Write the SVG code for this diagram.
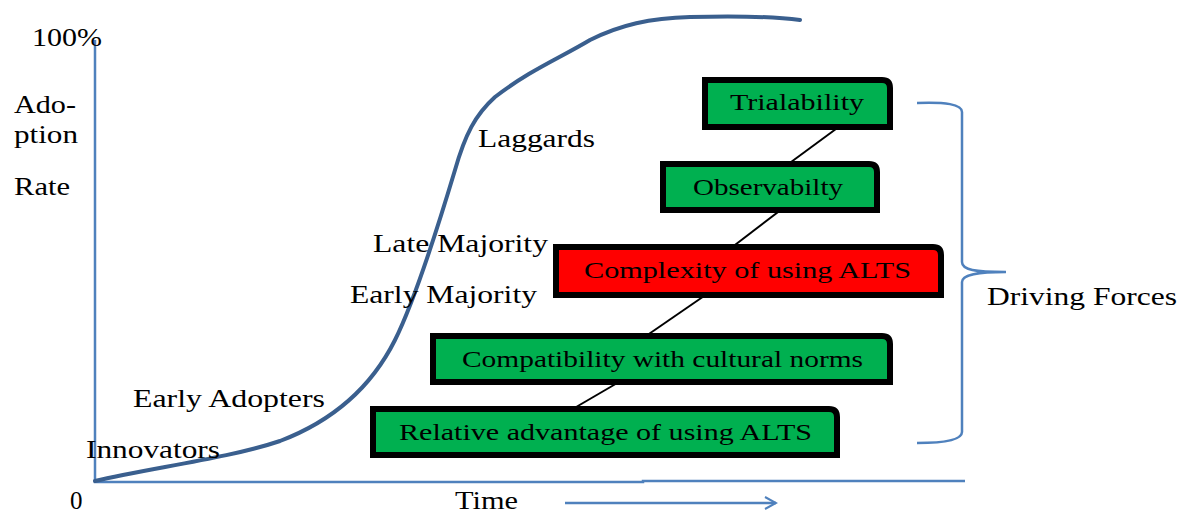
<svg xmlns="http://www.w3.org/2000/svg" width="1184" height="513" viewBox="0 0 1184 513">
<style>
text{font-family:"Liberation Serif","Times New Roman",serif;font-size:24px;fill:#000}
.lbl{font-size:25px}
.box{stroke:#000;stroke-width:6;stroke-linejoin:miter}
.g{fill:#00B050}
.r{fill:#FF0000}
.axis{stroke:#4F81BD;stroke-width:2.5;fill:none}
.conn{stroke:#000;stroke-width:2;fill:none}
</style>
<defs>
<marker id="chev" markerWidth="14" markerHeight="14" refX="12" refY="7" orient="auto" markerUnits="userSpaceOnUse">
<path d="M1,1 L12,7 L1,13" fill="none" stroke="#4F81BD" stroke-width="2"/>
</marker>
</defs>
<rect width="1184" height="513" fill="#fff"/>
<g id="axes">
<path class="axis" d="M95,40 V482 H643 V481 H965"/>
<path class="axis" d="M565,503 H776" marker-end="url(#chev)"/>
<text x="70" y="509" class="lbl">0</text>
<text x="32" y="46" class="lbl" textLength="70" lengthAdjust="spacingAndGlyphs">100%</text>
<text x="14" y="113" class="lbl" textLength="62" lengthAdjust="spacingAndGlyphs">Ado-</text>
<text x="14" y="143" class="lbl" textLength="64" lengthAdjust="spacingAndGlyphs">ption</text>
<text x="14" y="195" class="lbl" textLength="56" lengthAdjust="spacingAndGlyphs">Rate</text>
<text x="455" y="509" class="lbl" textLength="63" lengthAdjust="spacingAndGlyphs">Time</text>
</g>
<g id="curve">
<path d="M95,481 C150,468 230,458 280,441 C330,422 370,390 395,340 C415,300 440,220 455,170 C465,135 475,115 495,97 C530,70 560,58 590,40 C620,25 650,18 690,17 C730,16 770,16 800,20" fill="none" stroke="#3A5F8E" stroke-width="4" stroke-linecap="round"/>
<text x="86" y="458" class="lbl" textLength="134" lengthAdjust="spacingAndGlyphs">Innovators</text>
<text x="133" y="407" class="lbl" textLength="192" lengthAdjust="spacingAndGlyphs">Early Adopters</text>
<text x="350" y="303" class="lbl" textLength="187" lengthAdjust="spacingAndGlyphs">Early Majority</text>
<text x="373" y="252" class="lbl" textLength="175" lengthAdjust="spacingAndGlyphs">Late Majority</text>
<text x="478" y="147" class="lbl" textLength="117" lengthAdjust="spacingAndGlyphs">Laggards</text>
</g>
<g id="connectors">
<line class="conn" x1="840" y1="126" x2="787" y2="165"/>
<line class="conn" x1="782" y1="209" x2="731" y2="248"/>
<line class="conn" x1="707" y1="294" x2="646" y2="336"/>
<line class="conn" x1="619" y1="382" x2="571" y2="410"/>
</g>
<g id="trialability">
<path class="box g" d="M705,80 H882 Q890,80 890,88 V127 H705 Z"/>
<text x="730" y="110" textLength="134" lengthAdjust="spacingAndGlyphs">Trialability</text>
</g>
<g id="observability">
<path class="box g" d="M663,164 H869 Q877,164 877,172 V210 H663 Z"/>
<text x="693" y="195" textLength="150" lengthAdjust="spacingAndGlyphs">Observabilty</text>
</g>
<g id="complexity">
<path class="box r" d="M556,247 H933 Q941,247 941,255 V295 H556 Z"/>
<text x="584" y="278" textLength="327" lengthAdjust="spacingAndGlyphs">Complexity of using ALTS</text>
</g>
<g id="compatibility">
<path class="box g" d="M433,336 H882 Q890,336 890,344 V382 H433 Z"/>
<text x="462" y="367" textLength="401" lengthAdjust="spacingAndGlyphs">Compatibility with cultural norms</text>
</g>
<g id="relative">
<path class="box g" d="M373,409 H829 Q837,409 837,417 V455 H373 Z"/>
<text x="399" y="440" textLength="413" lengthAdjust="spacingAndGlyphs">Relative advantage of using ALTS</text>
</g>
<g id="driving-forces">
<path class="axis" d="M917,103 C945,102 962,104 962,112 V262 C962,270 975,272 1006,272 C975,272 962,275 962,282 V432 C962,440 945,443 917,443"/>
<text x="987" y="305" class="lbl" textLength="190" lengthAdjust="spacingAndGlyphs">Driving Forces</text>
</g>
</svg>
